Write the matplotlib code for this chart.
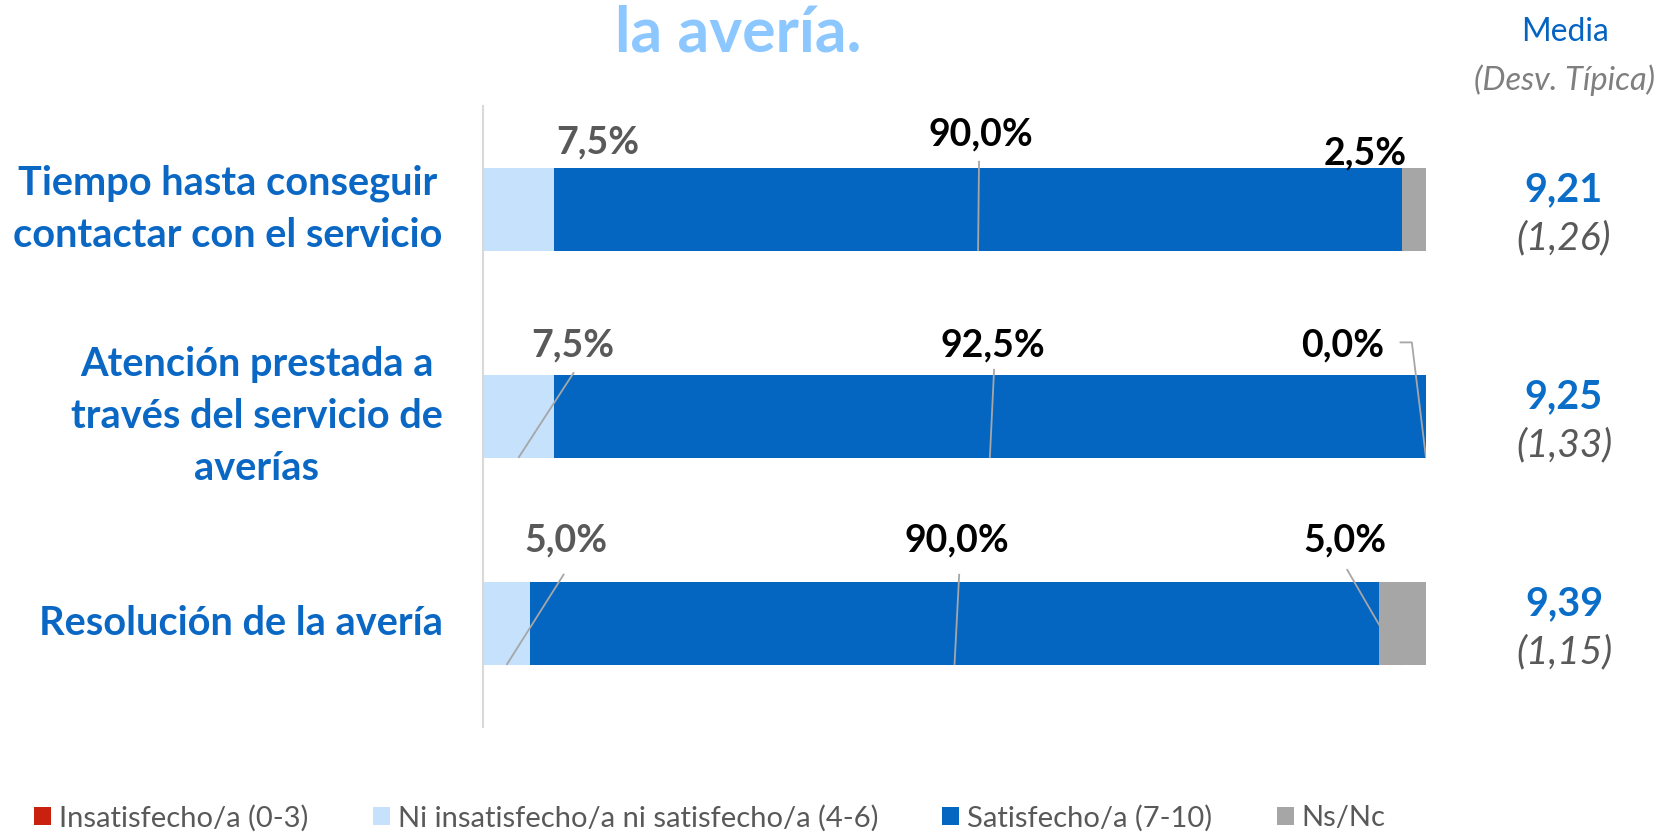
import matplotlib
matplotlib.use("Agg")
import matplotlib.pyplot as plt
import matplotlib.transforms as mtransforms
import numpy as np

plt.rcParams['font.family'] = ['Lato', 'DejaVu Sans']

categories = ["Tiempo hasta conseguir\ncontactar con el servicio",
              "Atención prestada a\ntravés del servicio de\naverías",
              "Resolución de la avería"]
series_names = ["Insatisfecho/a (0-3)", "Ni insatisfecho/a ni satisfecho/a (4-6)",
                "Satisfecho/a (7-10)", "Ns/Nc"]
insat = [0.0, 0.0, 0.0]
ni = [7.5, 7.5, 5.0]
sat = [90.0, 92.5, 90.0]
nsnc = [2.5, 0.0, 5.0]
medias = ["9,21", "9,25", "9,39"]
desv = ["(1,26)", "(1,33)", "(1,15)"]

colors = ["#C9210D", "#C5E1FB", "#0566C1", "#A6A6A6"]
label_colors = [None, "#595959", "#000000", "#000000"]

W, H = 1665, 833
fig = plt.figure(figsize=(W / 100, H / 100), dpi=100)
ax = fig.add_axes([483 / W, 1 - 727 / H, (1426 - 483) / W, (727 - 106) / H])

data = np.array([insat, ni, sat, nsnc])
y = np.arange(len(categories))
left = np.zeros(len(categories))
for i, vals in enumerate(data):
    ax.barh(y, vals, left=left, height=0.4, color=colors[i], label=series_names[i], zorder=2)
    left = left + vals

ax.set_xlim(0, 100)
ax.set_ylim(2.5, -0.5)
ax.set_xticks([])
ax.set_yticks(y, categories)
ax.tick_params(axis='y', length=0, pad=29)
for t in ax.get_yticklabels():
    t.set_multialignment('center')
    t.set_fontsize(28.6)
    t.set_fontweight('bold')
    t.set_color('#0A68C4')
    t.set_linespacing(1.5)
    t.set_verticalalignment('center')
for s in ['top', 'right', 'bottom']:
    ax.spines[s].set_visible(False)
ax.spines['left'].set_color('#D9D9D9')
ax.spines['left'].set_linewidth(1.5)

# label positions (x in %, y offset from bar centre) and leader start points
label_pos = {
    (0, 1): (12.2, -0.322, None),
    (0, 2): (52.8, -0.363, [(52.6, -0.235)]),
    (0, 3): (93.6, -0.271, None),
    (1, 1): (9.5, -0.343, [(9.65, -0.214)]),
    (1, 2): (54.1, -0.343, [(54.2, -0.23)]),
    (1, 3): (91.2, -0.343, [(97.2, -0.358), (98.5, -0.358)]),
    (2, 1): (8.8, -0.399, [(8.6, -0.24)]),
    (2, 2): (50.3, -0.399, [(50.5, -0.24)]),
    (2, 3): (91.4, -0.399, [(91.6, -0.263)]),
}
cum = np.cumsum(data, axis=0)
for (ci, si), (lx, ly, pts) in label_pos.items():
    val = data[si][ci]
    txt = f"{val:.1f}".replace('.', ',') + "%"
    ax.text(lx, ci + ly, txt, ha='center', va='center', fontsize=27, fontweight='bold',
            color=label_colors[si], zorder=4)
    if pts:
        seg_center = cum[si][ci] - val / 2
        xs = [p[0] for p in pts] + [seg_center]
        ys = [ci + p[1] for p in pts] + [ci + 0.2]
        ax.plot(xs, ys, color='#A6A6A6', lw=1.3, zorder=3, solid_capstyle='butt')

# right column
xr = 1564 / W
tr = mtransforms.blended_transform_factory(fig.transFigure, ax.transData)
for ci in range(len(categories)):
    ax.text(xr, ci - 0.095, medias[ci], transform=tr, ha='center', va='center',
            fontsize=28.5, fontweight='bold', color='#0A6EC8')
    ax.text(xr, ci + 0.14, desv[ci], transform=tr, ha='center', va='center',
            fontsize=28, fontstyle='italic', color='#595959')

fig.text(1565 / W, 1 - 32 / H, "Media", ha='center', va='center', fontsize=23, color='#0563C1')
fig.text(1565 / W, 1 - 80 / H, "(Desv. Típica)", ha='center', va='center', fontsize=23.5,
         fontstyle='italic', color='#7F7F7F')

fig.text(738 / W, 1 - 51 / H, "la avería.", ha='center', va='baseline', fontsize=45,
         fontweight='bold', color='#8CC7FF')

leg = fig.legend(loc='center left', bbox_to_anchor=(34 / W, 1 - 818 / H), ncol=4, frameon=False,
                 fontsize=21, handlelength=0.58, handleheight=0.58, handletextpad=0.28,
                 columnspacing=2.2, borderaxespad=0, borderpad=0)
for t in leg.get_texts():
    t.set_color('#595959')

fig.savefig("out.png", dpi=100)
